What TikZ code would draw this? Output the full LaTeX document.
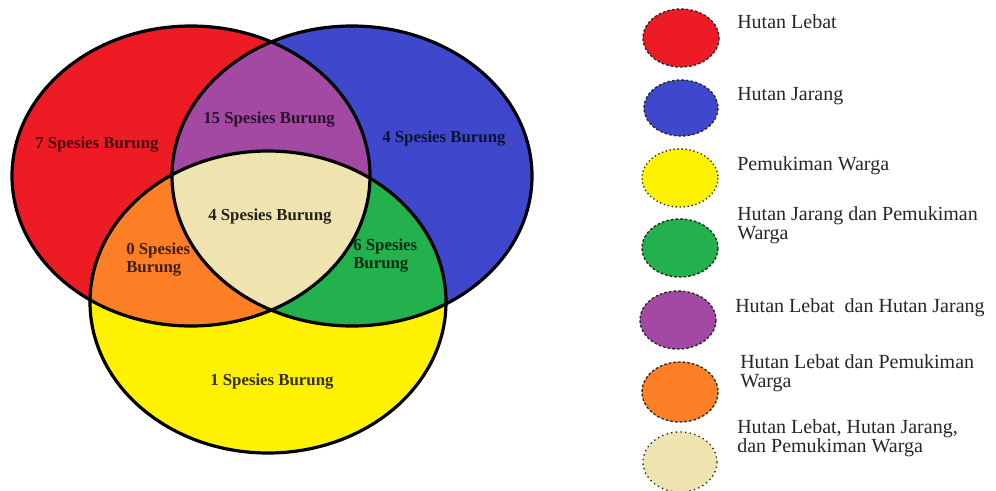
\documentclass[tikz,border=0pt]{standalone}
\usepackage{fontspec}
\setmainfont{Liberation Serif}
\definecolor{pred}{RGB}{237,28,36}
\definecolor{pblue}{RGB}{63,72,204}
\definecolor{pyellow}{RGB}{255,242,0}
\definecolor{pgreen}{RGB}{34,177,76}
\definecolor{ppurple}{RGB}{163,73,164}
\definecolor{porange}{RGB}{255,127,39}
\definecolor{pbeige}{RGB}{239,228,176}
\tikzset{
  venntext/.style={font=\bfseries\fontsize{12.6}{13.5}\selectfont, anchor=base west, inner sep=0pt, align=left},
  legtext/.style={font=\fontsize{15}{14}\selectfont, anchor=base west, inner sep=0pt, align=left, text=black!85},
  legell/.style={draw=black!85, line width=1pt, dash pattern=on 2pt off 1.5pt},
  vennline/.style={draw=black, line width=2.4pt}
}
\begin{document}
\begin{tikzpicture}[x=0.75pt,y=-0.75pt]
\useasboundingbox (0,0) rectangle (996,490);
\fill[white] (0,0) rectangle (996,490);
% centres
\coordinate (R) at (191,176);
\coordinate (B) at (352,176);
\coordinate (Y) at (268,302);
\def\ellR{(R) ellipse [x radius=179, y radius=150]}
\def\ellB{(B) ellipse [x radius=180, y radius=150]}
\def\ellY{(Y) ellipse [x radius=178, y radius=151]}
% base fills
\fill[pred] \ellR;
\fill[pblue] \ellB;
\fill[pyellow] \ellY;
% intersections
\begin{scope}
  \clip \ellR;
  \fill[ppurple] \ellB;
  \fill[porange] \ellY;
\end{scope}
\begin{scope}
  \clip \ellB;
  \fill[pgreen] \ellY;
  \clip \ellR;
  \fill[pbeige] \ellY;
\end{scope}
% outlines
\draw[vennline] \ellR;
\draw[vennline] \ellB;
\draw[vennline] \ellY;
% venn labels
\node[venntext, text=black!70!pred] (lr) at (35,148) {7 Spesies Burung};
\node[venntext, text=black!75!ppurple] (lp) at (203,123) {15 Spesies Burung};
\node[venntext, text=black!75!pblue] (lb) at (382,142) {4 Spesies Burung};
\node[venntext, text=black!85!pbeige] (lc) at (208,220) {4 Spesies Burung};
\node[venntext, text=black!75!porange] (lo) at (126,272) {0 Spesies\\Burung};
\node[venntext, text=black!75!pgreen] (lg) at (353,268) {6 Spesies\\Burung};
\node[venntext, text=black!80!pyellow] (ly) at (210,385) {1 Spesies Burung};
% legend
\fill[pred] (681,38) ellipse [x radius=38, y radius=29];
\draw[legell] (681,38) ellipse [x radius=38, y radius=29];
\fill[pblue] (681,108) ellipse [x radius=37, y radius=28];
\draw[legell] (681,108) ellipse [x radius=37, y radius=28];
\fill[pyellow] (680,178) ellipse [x radius=38, y radius=29];
\draw[legell, dash pattern=on 1pt off 2pt] (680,178) ellipse [x radius=38, y radius=29];
\fill[pgreen] (680,248) ellipse [x radius=38, y radius=29];
\draw[legell] (680,248) ellipse [x radius=38, y radius=29];
\fill[ppurple] (678,320) ellipse [x radius=38, y radius=29];
\draw[legell] (678,320) ellipse [x radius=38, y radius=29];
\fill[porange] (680,392) ellipse [x radius=38, y radius=30];
\draw[legell] (680,392) ellipse [x radius=38, y radius=30];
\fill[pbeige] (680,462) ellipse [x radius=37, y radius=30];
\draw[legell, dash pattern=on 1pt off 2.5pt] (680,462) ellipse [x radius=37, y radius=30];
\node[legtext] (t1) at (737,28) {Hutan Lebat};
\node[legtext] (t2) at (737,100) {Hutan Jarang};
\node[legtext] (t3) at (737,170) {Pemukiman Warga};
\node[legtext] (t4) at (737,239) {Hutan Jarang dan Pemukiman\\Warga};
\node[legtext] (t5) at (735,312) {Hutan Lebat~ dan Hutan Jarang};
\node[legtext] (t6) at (740,387) {Hutan Lebat dan Pemukiman\\Warga};
\node[legtext] (t7) at (737,452) {Hutan Lebat, Hutan Jarang,\\dan Pemukiman Warga};
\end{tikzpicture}
\end{document}
